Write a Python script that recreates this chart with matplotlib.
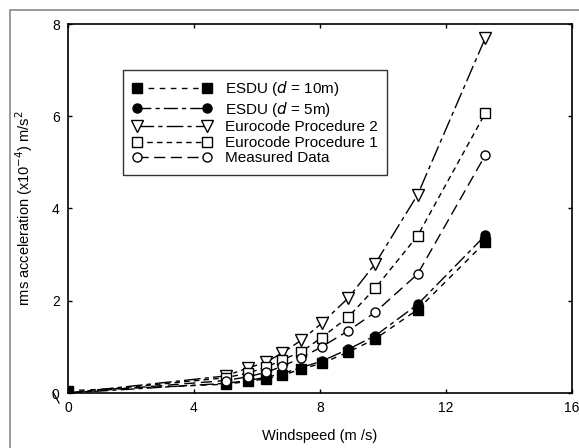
import matplotlib
matplotlib.use("Agg")
import matplotlib.pyplot as plt
from matplotlib.lines import Line2D
from matplotlib.patches import Rectangle

plt.rcParams['font.family'] = ['Liberation Sans', 'DejaVu Sans']

# Windspeed (m/s) and rms acceleration (x10^-4 m/s^2)
windspeed = [0, 5.0, 5.7, 6.3, 6.8, 7.4, 8.05, 8.9, 9.75, 11.1, 13.25]
esdu_10m = [0.05, 0.19, 0.25, 0.31, 0.38, 0.52, 0.64, 0.89, 1.17, 1.81, 3.27]
esdu_5m = [0, 0.21, 0.27, 0.34, 0.42, 0.55, 0.69, 0.95, 1.24, 1.92, 3.42]
eurocode_p2 = [0, 0.37, 0.54, 0.67, 0.87, 1.14, 1.51, 2.06, 2.80, 4.30, 7.70]
eurocode_p1 = [0, 0.33, 0.43, 0.56, 0.72, 0.89, 1.20, 1.65, 2.27, 3.41, 6.07]
measured = [0, 0.27, 0.35, 0.45, 0.58, 0.76, 1.00, 1.35, 1.75, 2.58, 5.16]

labels = [r"ESDU ($d$ = 10m)", r"ESDU ($d$ = 5m)", "Eurocode Procedure 2",
          "Eurocode Procedure 1", "Measured Data"]
x_ticks = [0, 4, 8, 12, 16]
y_ticks = [0, 2, 4, 6, 8]

W, H = 579, 448
fig = plt.figure(figsize=(W / 100, H / 100), dpi=100)
ax = fig.add_axes([68 / W, (H - 393) / H, 504 / W, 369 / H])

# outer frame
fig.patches.append(Rectangle((10 / W, -0.1), 1.2, (H - 10) / H + 0.1,
                             transform=fig.transFigure, fill=False,
                             edgecolor='#8a8a8a', linewidth=1.2))

series = [
    (esdu_10m, dict(marker='s', mfc='black', dashes=(4, 4)), None),
    (esdu_5m, dict(marker='o', mfc='black', dashes=(10, 3, 3, 3)), slice(1, None)),
    (eurocode_p2, dict(marker='v', mfc='white', dashes=(12, 3, 3, 3)), slice(1, None)),
    (eurocode_p1, dict(marker='s', mfc='white', dashes=(4, 3)), slice(1, None)),
    (measured, dict(marker='o', mfc='white', dashes=(8, 4)), slice(1, None)),
]
sizes = {'s': 7, 'o': 6.5, 'v': 8}
handles = []
for (vals, style, every), lab in zip(series, labels):
    ms = sizes[style['marker']]
    ax.plot(windspeed, vals, color='black', linewidth=1.0,
            marker=style['marker'], markersize=ms, mfc=style['mfc'],
            mec='black', mew=1.0, dashes=style['dashes'],
            markevery=every, label=lab)
    handles.append(Line2D([0], [0], color='black', linewidth=1.0,
                          marker=style['marker'], markersize=ms,
                          mfc=style['mfc'], mec='black', mew=1.0,
                          dashes=style['dashes']))

ax.set_xlim(0, 16)
ax.set_ylim(0, 8)
ax.set_xticks(x_ticks)
ax.set_yticks(y_ticks)
ax.set_xticklabels([str(t) for t in x_ticks])
ax.set_yticklabels([str(t) for t in y_ticks])
ax.tick_params(direction='in', top=True, right=True, length=3, width=1,
               labelsize=10, pad=6, colors='black')
for sp in ax.spines.values():
    sp.set_linewidth(1.2)

ax.set_xlabel("Windspeed (m /s)", fontsize=10.5, labelpad=10)
ax.set_ylabel(r"rms acceleration (x10$^{-4}$) m/s$^2$", fontsize=10.5, labelpad=12)

leg = ax.legend(handles, labels, loc='upper left',
                bbox_to_anchor=(0.109, 0.875), borderaxespad=0,
                numpoints=2, handlelength=5.2,
                handletextpad=0.9, fontsize=11, frameon=True, fancybox=False,
                edgecolor='black', borderpad=0.6, labelspacing=0.1)
leg.get_frame().set_linewidth(1.0)

# small slash between the two zero labels
fig.add_artist(Line2D([53 / W, 59 / W], [(H - 392) / H, (H - 403) / H],
                      transform=fig.transFigure, color='black', linewidth=0.9))

fig.savefig("out.png", dpi=100)
